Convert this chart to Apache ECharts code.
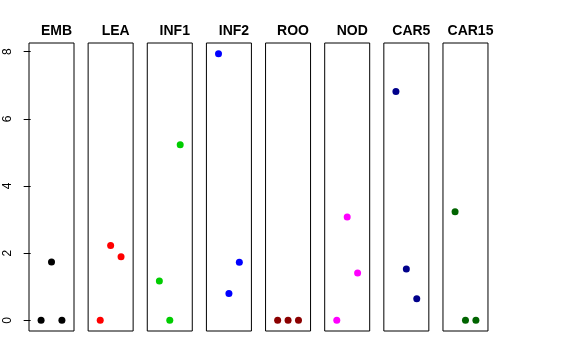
<!DOCTYPE html>
<html>
<head>
<meta charset="utf-8">
<script src="https://cdn.jsdelivr.net/npm/echarts@6/dist/echarts.min.js"></script>
<style>html,body{margin:0;padding:0;background:#fff;}#c{width:576px;height:360px;}</style>
</head>
<body>
<div id="c"></div>
<script>
var panels = ["EMB","LEA","INF1","INF2","ROO","NOD","CAR5","CAR15"];
var colors = ["#000000","#FF0000","#00CD00","#0000FF","#8B0000","#FF00FF","#00008B","#006400"];
var positions = [1, 2, 3];
var values = [
  [0, 1.74, 0],
  [0, 2.23, 1.89],
  [1.17, 0, 5.23],
  [7.94, 0.80, 1.73],
  [0, 0, 0],
  [0, 3.08, 1.41],
  [6.81, 1.53, 0.64],
  [3.23, 0, 0]
];
var yTicks = [0, 2, 4, 6, 8];

var yMaxData = 7.94, yPad = yMaxData * 0.04;
var panelLeft = 29, panelStep = 59.14, panelW = 45, panelTop = 43, panelH = 288;

var grids = [], xAxes = [], yAxes = [], series = [], titles = [];
panels.forEach(function(name, i){
  var left = panelLeft + i * panelStep;
  grids.push({left: left, top: panelTop, width: panelW, height: panelH, show: true,
    borderColor: '#000', borderWidth: 1, backgroundColor: 'transparent', containLabel: false});
  xAxes.push({gridIndex: i, type: 'value', min: -0.16, max: 4.16, show: false});
  var ya = {gridIndex: i, type: 'value', min: -yPad, max: yMaxData + yPad,
    splitLine: {show: false}, axisLine: {show: false}};
  if (i === 0) {
    ya.axisTick = {show: true, length: 7, lineStyle: {color: '#000'}, customValues: yTicks};
    ya.axisLabel = {show: true, rotate: 90, margin: 15, color: '#000', fontSize: 12,
      fontFamily: 'Liberation Sans, Arial, sans-serif', customValues: yTicks};
  } else {
    ya.axisTick = {show: false};
    ya.axisLabel = {show: false};
  }
  yAxes.push(ya);
  series.push({type: 'scatter', xAxisIndex: i, yAxisIndex: i, symbol: 'circle', symbolSize: 7,
    itemStyle: {color: colors[i], opacity: 1}, silent: true,
    data: positions.map(function(p, k){ return [p, values[i][k]]; })});
  titles.push({text: name, left: left + panelW / 2, top: 19, textAlign: 'center',
    textStyle: {fontSize: 14, fontWeight: 'bold', color: '#000', fontFamily: 'Liberation Sans, Arial, sans-serif'}});
});

var chart = echarts.init(document.getElementById('c'), null, {renderer: 'canvas'});
chart.setOption({
  animation: false,
  backgroundColor: '#fff',
  title: titles,
  grid: grids,
  xAxis: xAxes,
  yAxis: yAxes,
  series: series
});
</script>
</body>
</html>
